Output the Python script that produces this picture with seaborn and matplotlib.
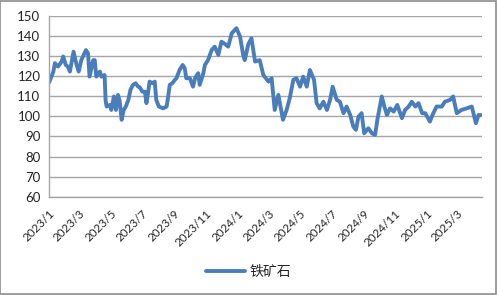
import matplotlib
matplotlib.use("Agg")
import matplotlib.pyplot as plt
import matplotlib.dates as mdates
import seaborn as sns
import pandas as pd
from matplotlib.lines import Line2D

dates = [
    "2023-01-02", "2023-01-10", "2023-01-13", "2023-01-19", "2023-01-26", "2023-01-29",
    "2023-02-03", "2023-02-07", "2023-02-11", "2023-02-18", "2023-02-24", "2023-02-28",
    "2023-03-05", "2023-03-14", "2023-03-18", "2023-03-21", "2023-03-28", "2023-03-31",
    "2023-04-03", "2023-04-10", "2023-04-13", "2023-04-19", "2023-04-21", "2023-04-23",
    "2023-04-29", "2023-05-02", "2023-05-07", "2023-05-11", "2023-05-15", "2023-05-18",
    "2023-05-22", "2023-05-26", "2023-05-30", "2023-06-04", "2023-06-08", "2023-06-13",
    "2023-06-18", "2023-06-23", "2023-06-26", "2023-07-01", "2023-07-06", "2023-07-09",
    "2023-07-12", "2023-07-15", "2023-07-21", "2023-07-25", "2023-07-28", "2023-08-02",
    "2023-08-10", "2023-08-17", "2023-08-20", "2023-08-23", "2023-08-28", "2023-09-02",
    "2023-09-05", "2023-09-11", "2023-09-17", "2023-09-21", "2023-09-24", "2023-10-01",
    "2023-10-07", "2023-10-11", "2023-10-17", "2023-10-20", "2023-10-27", "2023-10-30",
    "2023-11-05", "2023-11-12", "2023-11-18", "2023-11-25", "2023-12-01", "2023-12-08",
    "2023-12-14", "2023-12-21", "2023-12-30", "2024-01-06", "2024-01-12", "2024-01-15",
    "2024-01-22", "2024-01-28", "2024-02-04", "2024-02-13", "2024-02-20", "2024-03-01",
    "2024-03-07", "2024-03-13", "2024-03-20", "2024-03-29", "2024-04-05", "2024-04-11",
    "2024-04-18", "2024-04-24", "2024-05-01", "2024-05-07", "2024-05-14", "2024-05-20",
    "2024-05-28", "2024-06-02", "2024-06-08", "2024-06-15", "2024-06-22", "2024-06-28",
    "2024-07-03", "2024-07-11", "2024-07-17", "2024-07-24", "2024-07-30", "2024-08-06",
    "2024-08-12", "2024-08-17", "2024-08-22", "2024-08-28", "2024-09-02", "2024-09-10",
    "2024-09-17", "2024-09-23", "2024-09-28", "2024-10-06", "2024-10-11", "2024-10-16",
    "2024-10-22", "2024-10-29", "2024-11-05", "2024-11-14", "2024-11-20", "2024-11-27",
    "2024-12-03", "2024-12-10", "2024-12-16", "2024-12-23", "2024-12-29", "2025-01-07",
    "2025-01-12", "2025-01-20", "2025-01-30", "2025-02-05", "2025-02-15", "2025-02-21",
    "2025-02-28", "2025-03-09", "2025-03-19", "2025-03-29", "2025-04-06", "2025-04-11",
    "2025-04-15",
]
values = [
    117.0, 122.3, 126.5, 124.8, 127.3, 129.8,
    125.6, 124.8, 122.3, 132.2, 125.6, 122.3,
    128.0, 133.0, 131.4, 119.8, 128.0, 128.0,
    119.8, 122.3, 119.8, 120.6, 108.0, 104.9,
    105.7, 103.2, 109.9, 103.2, 110.7, 108.0,
    98.3, 103.2, 104.9, 108.2, 113.2, 115.7,
    116.5, 114.8, 114.5, 112.3, 112.3, 106.6,
    111.5, 117.3, 116.5, 117.3, 108.2, 104.9,
    104.0, 104.9, 109.9, 115.7, 116.5, 118.2,
    119.0, 123.1, 125.6, 124.0, 119.0, 119.0,
    114.8, 119.0, 121.5, 115.7, 121.5, 125.6,
    128.0, 133.0, 134.7, 130.6, 137.2, 136.0,
    134.7, 141.4, 143.9, 139.7, 130.6, 128.0,
    136.0, 138.9, 127.3, 128.0, 120.6, 117.3,
    119.0, 103.2, 110.7, 98.3, 103.2, 109.0,
    118.2, 119.0, 114.8, 119.8, 114.8, 123.1,
    118.2, 106.6, 104.0, 107.3, 103.2, 108.2,
    114.8, 108.2, 107.3, 101.6, 104.9, 100.7,
    94.9, 93.3, 99.9, 101.6, 91.6, 94.1,
    91.6, 90.8, 99.1, 109.9, 104.9, 100.7,
    104.0, 102.4, 105.7, 99.1, 103.2, 104.9,
    107.3, 104.9, 106.6, 101.6, 101.6, 97.4,
    100.7, 104.9, 104.9, 107.3, 108.2, 109.9,
    101.6, 103.2, 104.0, 104.9, 96.6, 100.7,
    100.7,
]
series_name = "铁矿石"
tick_dates = ["2023-01-01", "2023-03-01", "2023-05-01", "2023-07-01", "2023-09-01",
              "2023-11-01", "2024-01-01", "2024-03-01", "2024-05-01", "2024-07-01",
              "2024-09-01", "2024-11-01", "2025-01-01", "2025-03-01"]
tick_labels = ["2023/1", "2023/3", "2023/5", "2023/7", "2023/9", "2023/11", "2024/1",
               "2024/3", "2024/5", "2024/7", "2024/9", "2024/11", "2025/1", "2025/3"]
y_ticks = [60, 70, 80, 90, 100, 110, 120, 130, 140, 150]

sns.set_theme(style="white")
plt.rcParams['font.family'] = ['Lato', 'Noto Sans CJK SC', 'DejaVu Sans']

df = pd.DataFrame({"date": pd.to_datetime(dates), "value": values, "series": series_name})

fig = plt.figure(figsize=(4.97, 2.95), dpi=100)
ax = fig.add_axes([0.098, 0.333, 0.871, 0.613])

sns.lineplot(data=df, x="date", y="value", hue="series", palette=["#4a7ebb"],
             linewidth=2.8, ax=ax, legend=False)

ax.set_xlim(pd.Timestamp("2023-01-01"), pd.Timestamp("2025-04-17"))
ax.set_ylim(60, 150)
ax.set_yticks(y_ticks)
ax.set_yticklabels([str(v) for v in y_ticks], fontsize=9.5, color="#262626")
ax.set_xticks(pd.to_datetime(tick_dates))
ax.set_xticklabels(tick_labels, rotation=45, ha="right", rotation_mode="anchor",
                   fontsize=8.5, color="#262626")
ax.set_xlabel("")
ax.set_ylabel("")
ax.grid(axis="y", color="#a6a6a6", linewidth=1.0)
ax.set_axisbelow(True)
for s in ["top", "right"]:
    ax.spines[s].set_visible(False)
for s in ["left", "bottom"]:
    ax.spines[s].set_color("#a6a6a6")
    ax.spines[s].set_linewidth(1.0)
ax.tick_params(axis="x", direction="out", length=5, width=1, color="#a6a6a6", pad=3)
ax.tick_params(axis="y", direction="out", length=4, width=1, color="#a6a6a6", pad=2)

handle = Line2D([], [], color="#4a7ebb", linewidth=2.8)
fig.legend([handle], [series_name], loc="center", bbox_to_anchor=(0.5, 0.078),
           frameon=False, handlelength=2.8, handletextpad=0.3,
           prop={"family": ["Noto Sans CJK SC", "DejaVu Sans"], "size": 10})

fig.patches.append(plt.Rectangle((0.001, 0.002), 0.997, 0.995, transform=fig.transFigure,
                                 fill=False, edgecolor="#8c8c8c", linewidth=1.2))

fig.savefig("out.png", dpi=100)
